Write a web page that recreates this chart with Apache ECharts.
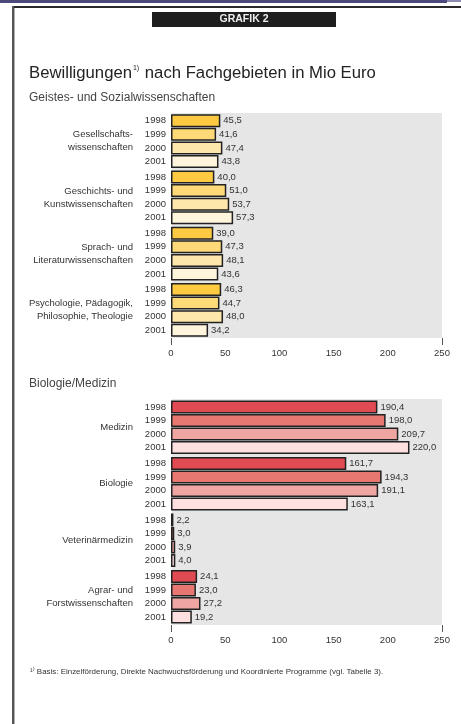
<!DOCTYPE html>
<html>
<head>
<meta charset="utf-8">
<script src="https://cdn.jsdelivr.net/npm/echarts@6/dist/echarts.min.js"></script>
<style>
  html, body { margin: 0; padding: 0; background: #fff; }
  #chart { width: 461px; height: 724px; }
</style>
</head>
<body>
<div id="chart"></div>
<script>
// Years shown for every subject group
const years = ['1998', '1999', '2000', '2001'];

// Geistes- und Sozialwissenschaften
const geistesGroups = [
  'Gesellschafts-\nwissenschaften',
  'Geschichts- und\nKunstwissenschaften',
  'Sprach- und\nLiteraturwissenschaften',
  'Psychologie, Pädagogik,\nPhilosophie, Theologie'
];
const geistes1998 = [45.5, 40.0, 39.0, 46.3];
const geistes1999 = [41.6, 51.0, 47.3, 44.7];
const geistes2000 = [47.4, 53.7, 48.1, 48.0];
const geistes2001 = [43.8, 57.3, 43.6, 34.2];

// Biologie/Medizin
const bioGroups = [
  'Medizin',
  'Biologie',
  'Veterinärmedizin',
  'Agrar- und\nForstwissenschaften'
];
const bio1998 = [190.4, 161.7, 2.2, 24.1];
const bio1999 = [198.0, 194.3, 3.0, 23.0];
const bio2000 = [209.7, 191.1, 3.9, 27.2];
const bio2001 = [220.0, 163.1, 4.0, 19.2];

// Value axis
const axisMin = 0;
const axisMax = 250;
const axisStep = 50;

const yellowShades = ['#fdca42', '#fdd978', '#fee7ab', '#fff5dd'];
const redShades = ['#e04a52', '#e77871', '#efa6a3', '#fde0df'];

const sans = '"Liberation Sans", Arial, Helvetica, sans-serif';
const labelSize = 9.5;

const fmt = v => v.toFixed(1).replace('.', ',');

function panelSeries(gridIdx, yearData, shades) {
  const out = [];
  yearData.forEach((vals, k) => {
    // zero-length bar carrying the year label left of the axis
    out.push({
      type: 'bar',
      xAxisIndex: gridIdx, yAxisIndex: gridIdx,
      stack: 'g' + gridIdx + 'y' + k,
      data: vals.map(() => 0),
      barWidth: 13,
      barGap: '4%',
      itemStyle: { color: 'transparent', borderWidth: 0 },
      label: {
        show: true, position: 'left', distance: 5,
        formatter: () => years[k],
        fontFamily: sans, fontSize: labelSize, color: '#333'
      },
      silent: true,
      z: 1
    });
    out.push({
      type: 'bar',
      name: years[k],
      xAxisIndex: gridIdx, yAxisIndex: gridIdx,
      stack: 'g' + gridIdx + 'y' + k,
      data: vals,
      barWidth: 13,
      barGap: '4%',
      itemStyle: { color: shades[k], borderColor: '#222', borderWidth: 1.5 },
      label: {
        show: true, position: 'right', distance: 3,
        formatter: p => fmt(p.value),
        fontFamily: sans, fontSize: labelSize, color: '#333'
      },
      z: 2
    });
  });
  return out;
}

function xAxisFor(gridIdx) {
  return {
    type: 'value', gridIndex: gridIdx,
    min: axisMin, max: axisMax, interval: axisStep,
    axisLine: { show: false },
    axisTick: { show: true, customValues: [axisMin, axisMax], length: 7, lineStyle: { color: '#555', width: 1 } },
    axisLabel: { fontFamily: sans, fontSize: labelSize, color: '#333', margin: 10 },
    splitLine: { show: true, lineStyle: { color: '#ffffff', width: 1.2 } }
  };
}

function yAxisFor(gridIdx, groups) {
  return {
    type: 'category', gridIndex: gridIdx, inverse: true,
    data: groups,
    axisLine: { show: false },
    axisTick: { show: false },
    axisLabel: {
      margin: 38, fontFamily: sans, fontSize: labelSize, color: '#333',
      lineHeight: 13, align: 'right', padding: [8, 0, 0, 0]
    }
  };
}

const chart = echarts.init(document.getElementById('chart'), null, { renderer: 'canvas' });

chart.setOption({
  animation: false,
  backgroundColor: '#ffffff',
  grid: [
    { left: 171, top: 113, width: 271, height: 225, show: true, backgroundColor: '#e6e6e6', borderWidth: 0 },
    { left: 171, top: 399, width: 271, height: 226, show: true, backgroundColor: '#e6e6e6', borderWidth: 0 }
  ],
  xAxis: [xAxisFor(0), xAxisFor(1)],
  yAxis: [yAxisFor(0, geistesGroups), yAxisFor(1, bioGroups)],
  series: [
    ...panelSeries(0, [geistes1998, geistes1999, geistes2000, geistes2001], yellowShades),
    ...panelSeries(1, [bio1998, bio1999, bio2000, bio2001], redShades)
  ],
  graphic: [
    // page frame
    { type: 'rect', shape: { x: 0, y: 0, width: 447, height: 3 }, style: { fill: '#4b4a7c' }, silent: true },
    { type: 'rect', shape: { x: 447, y: 0, width: 14, height: 2 }, style: { fill: '#8d8cb0' }, silent: true },
    { type: 'rect', shape: { x: 12, y: 6, width: 449, height: 2 }, style: { fill: '#2a2a2a' }, silent: true },
    { type: 'rect', shape: { x: 12, y: 6, width: 2, height: 718 }, style: { fill: '#555555' }, silent: true },
    { type: 'rect', shape: { x: 14, y: 8, width: 1, height: 716 }, style: { fill: '#b0b0b0' }, silent: true },
    // heading box
    { type: 'rect', shape: { x: 152, y: 12, width: 184, height: 15 }, style: { fill: '#1e1e1e' }, silent: true },
    { type: 'text', x: 244, y: 19.5, style: { text: 'GRAFIK 2', fill: '#eeeeee', font: 'bold 10.5px ' + sans, textAlign: 'center', textVerticalAlign: 'middle' } },
    // titles
    {
      type: 'text', x: 29, y: 73,
      style: {
        text: '{t|Bewilligungen}{s|1)}{t| nach Fachgebieten in Mio Euro}',
        textVerticalAlign: 'middle',
        rich: {
          t: { font: '16.7px ' + sans, fill: '#222' },
          s: { font: '7px ' + sans, fill: '#222', verticalAlign: 'top', padding: [0, 1, 10, 1] }
        }
      }
    },
    { type: 'text', x: 29, y: 98, style: { text: 'Geistes- und Sozialwissenschaften', font: '12px ' + sans, fill: '#444', textVerticalAlign: 'middle' } },
    { type: 'text', x: 29, y: 384, style: { text: 'Biologie/Medizin', font: '12px ' + sans, fill: '#444', textVerticalAlign: 'middle' } },
    // footnote
    { type: 'text', x: 30, y: 672, style: { text: '¹⁾ Basis: Einzelförderung, Direkte Nachwuchsförderung und Koordinierte Programme (vgl. Tabelle 3).', font: '7.95px ' + sans, fill: '#333', textVerticalAlign: 'middle' } }
  ]
});
</script>
</body>
</html>
